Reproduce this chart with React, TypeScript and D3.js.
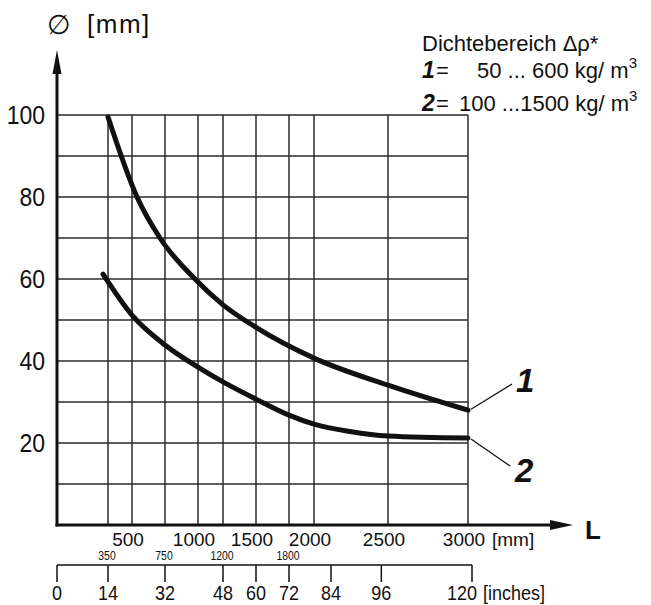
import React from 'react';
import * as d3 from 'd3';

// curve 1 / curve 2: length L [mm] against diameter [mm]
const curve1Mm = [350, 538, 712, 977, 1200, 1500, 2000, 2500, 3000];
const curve1Dia = [99.5, 80, 70, 60, 53.7, 48.2, 40.7, 34.1, 28];
const curve2Mm = [316, 500, 750, 1000, 1200, 1500, 1800, 2000, 2243, 2500, 3000];
const curve2Dia = [61.2, 51.2, 43.9, 38.5, 34.9, 30.7, 26.8, 24.6, 22.8, 21.7, 21.2];

// axes
const gridMm = [350, 500, 750, 1000, 1200, 1500, 1800, 2000, 2500, 3000];
const mmLabels = [500, 1000, 1500, 2000, 2500, 3000];
const mmSubLabels = [350, 750, 1200, 1800];
const yGrid = [10, 20, 30, 40, 50, 60, 70, 80, 90, 100];
const yLabels = [20, 40, 60, 80, 100];
const inchTicks = [0, 14, 32, 48, 60, 72, 84, 96, 120];
const inchAsMm = [0, 350, 750, 1200, 1500, 1800, 2115, 2455, 3025];

// the L axis of the original is not evenly spaced: stops of the piecewise scale
const xStops = [0, 350, 500, 750, 1000, 1200, 1500, 1800, 2000, 2500, 3000];
const xStopPx = [57, 108, 132, 165, 198, 223, 256, 289, 314, 388, 468];

const W = 651;
const H = 605;
const FONT = "'Liberation Sans', Arial, Helvetica, sans-serif";

function T({ x, y, size, sx = 1, anchor = 'start', weight = 'normal', italic = false, children }: any) {
  return (
    <text
      transform={`translate(${x},${y}) scale(${sx},1)`}
      fontSize={size}
      textAnchor={anchor}
      fontWeight={weight}
      fontStyle={italic ? 'italic' : 'normal'}
      fill="#111"
    >
      {children}
    </text>
  );
}

export default function App() {
  const y = d3.scaleLinear().domain([0, 100]).range([525, 115]);
  const x = d3.scaleLinear().domain(xStops).range(xStopPx);
  const inch = d3.scaleLinear().domain(inchTicks).range(inchAsMm.map(v => x(v)));

  const line = d3.line<[number, number]>()
    .x(d => x(d[0]))
    .y(d => y(d[1]))
    .curve(d3.curveMonotoneX);

  const c1 = curve1Mm.map((m, i) => [m, curve1Dia[i]] as [number, number]);
  const c2 = curve2Mm.map((m, i) => [m, curve2Dia[i]] as [number, number]);

  const x0 = x(0);
  const y0 = y(0);
  const xEnd = x(3000);
  const yTop = y(100);
  const arrowX = 573;
  const arrowY = 50;
  const inchY = 565;

  const end1: [number, number] = [x(3000), y(curve1Dia[curve1Dia.length - 1])];
  const end2: [number, number] = [x(3000), y(curve2Dia[curve2Dia.length - 1])];

  return (
    <svg
      width={W}
      height={H}
      style={{ position: 'absolute', left: 0, top: 0, background: '#fff' }}
      fontFamily={FONT}
    >
      {/* grid */}
      <g stroke="#2a2a2a" strokeWidth={1.5}>
        {yGrid.map(v => (
          <line key={'h' + v} x1={x0} x2={xEnd} y1={y(v)} y2={y(v)} />
        ))}
        {gridMm.map(v => (
          <line key={'v' + v} x1={x(v)} x2={x(v)} y1={yTop} y2={y0} />
        ))}
      </g>

      {/* axes */}
      <line x1={x0} x2={x0} y1={y0 + 1.5} y2={arrowY + 10} stroke="#111" strokeWidth={3} />
      <path d={`M${x0},${arrowY} L${x0 - 4.5},${arrowY + 24} L${x0 + 4.5},${arrowY + 24} Z`} fill="#111" />
      <line x1={x0 - 1.5} x2={arrowX - 10} y1={y0} y2={y0} stroke="#111" strokeWidth={3} />
      <path d={`M${arrowX},${y0} L${arrowX - 23},${y0 - 5} L${arrowX - 23},${y0 + 5} Z`} fill="#111" />

      {/* curves */}
      <path d={line(c1) || ''} fill="none" stroke="#111" strokeWidth={5} strokeLinecap="round" />
      <path d={line(c2) || ''} fill="none" stroke="#111" strokeWidth={5} strokeLinecap="round" />

      {/* leaders and curve labels */}
      <line x1={end1[0] + 3} y1={end1[1] - 1} x2={512} y2={384} stroke="#111" strokeWidth={1.3} />
      <line x1={end2[0] + 3} y1={end2[1] + 1} x2={510} y2={466} stroke="#111" strokeWidth={1.3} />
      <T x={516} y={392} size={33} weight="bold" italic>1</T>
      <T x={515} y={482} size={33} weight="bold" italic>2</T>

      {/* y labels */}
      {yLabels.map(v => (
        <T key={'yl' + v} x={45} y={y(v) + 9} size={25} sx={0.92} anchor="end">{v}</T>
      ))}
      <T x={47} y={34} size={27}>∅</T>
      <text x={87} y={33} fontSize={26} letterSpacing={1.5} fill="#111">[mm]</text>

      {/* mm labels */}
      {mmLabels.map(v => (
        <T key={'xl' + v} x={x(v) - 4} y={546} size={19} anchor="middle">{v}</T>
      ))}
      <T x={492} y={546} size={19}>[mm]</T>
      <T x={585} y={539} size={26} weight="bold">L</T>
      {mmSubLabels.map(v => (
        <T key={'xs' + v} x={x(v) - 1} y={560} size={13} sx={0.8} anchor="middle">{v}</T>
      ))}

      {/* inch axis */}
      <line x1={inch(0)} x2={inch(120)} y1={inchY} y2={inchY} stroke="#111" strokeWidth={1.5} />
      {inchTicks.map(v => (
        <line key={'it' + v} x1={inch(v)} x2={inch(v)} y1={inchY} y2={inchY + 17} stroke="#111" strokeWidth={1.5} />
      ))}
      {inchTicks.map((v, i) => (
        i === inchTicks.length - 1
          ? <T key={'il' + v} x={inch(v) + 5} y={600} size={20} sx={0.9} anchor="end">{v}</T>
          : <T key={'il' + v} x={inch(v)} y={600} size={20} sx={0.9} anchor="middle">{v}</T>
      ))}
      <T x={483} y={600} size={20} sx={0.9}>[inches]</T>

      {/* legend */}
      <T x={422} y={51} size={22}>Dichtebereich Δρ*</T>
      <T x={422} y={78} size={23} weight="bold" italic>1</T>
      <T x={436} y={78} size={22}>=</T>
      <T x={477} y={78} size={22}>
        50 ... 600 kg/ m<tspan dy={-10} fontSize={15}>3</tspan>
      </T>
      <T x={422} y={111} size={23} weight="bold" italic>2</T>
      <T x={436} y={111} size={22}>=</T>
      <T x={459} y={111} size={22}>
        100 ...1500 kg/ m<tspan dy={-10} fontSize={15}>3</tspan>
      </T>
    </svg>
  );
}
